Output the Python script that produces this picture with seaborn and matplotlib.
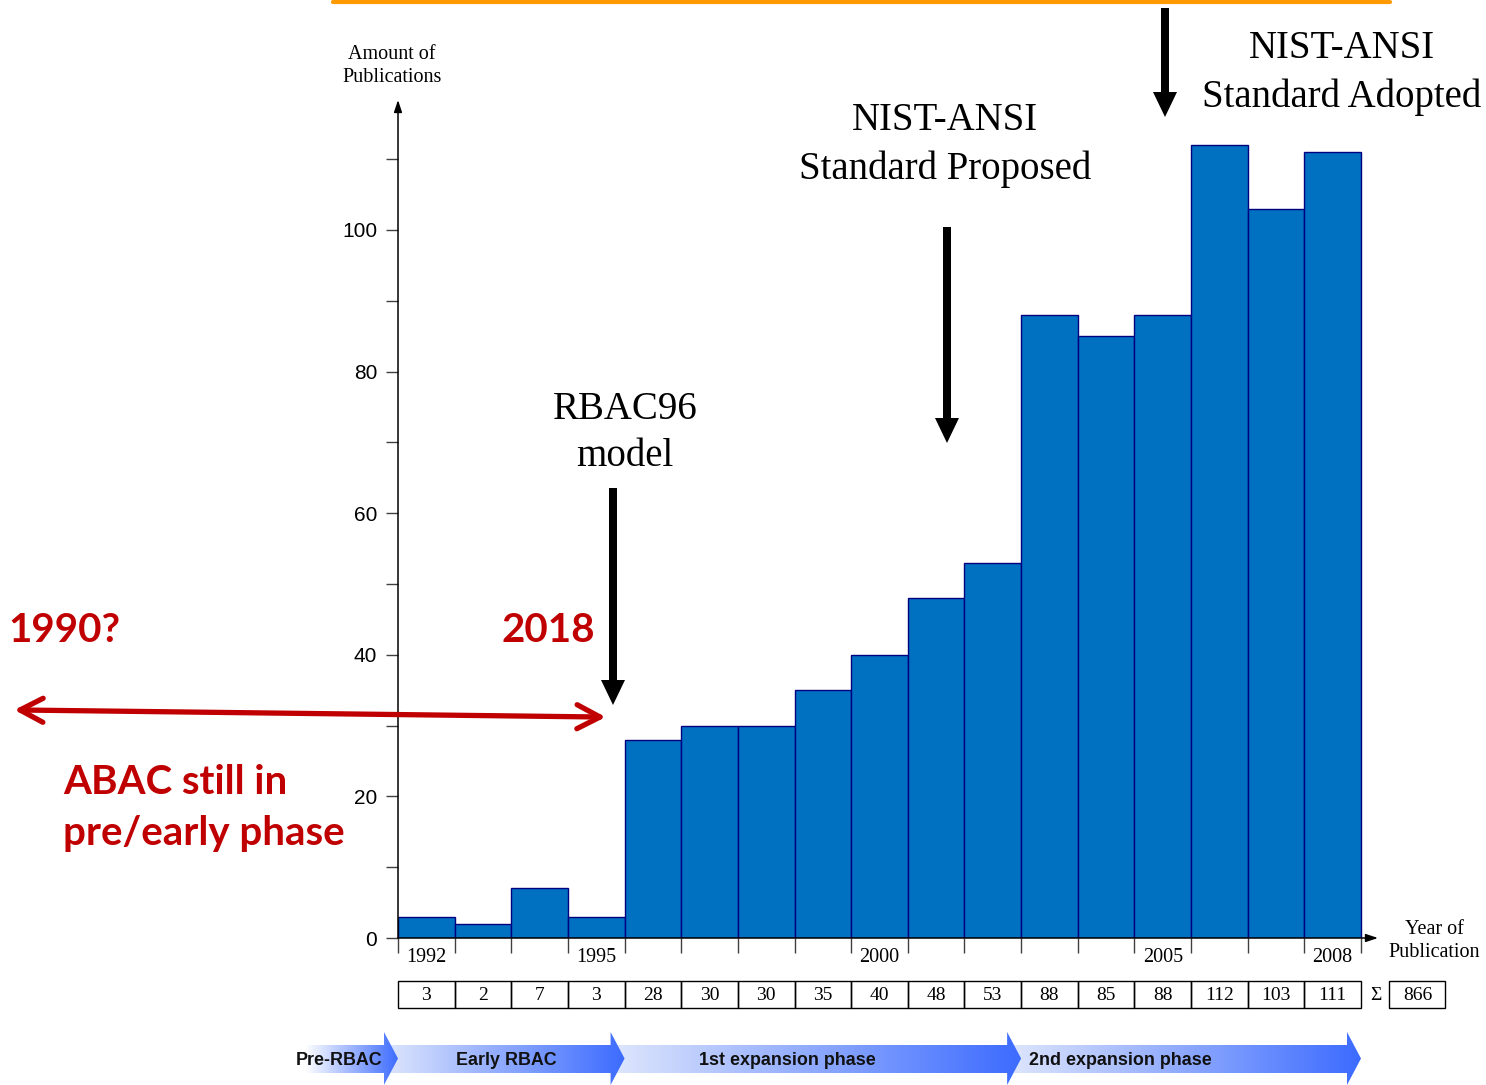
import numpy as np
import pandas as pd
import seaborn as sns
import matplotlib
matplotlib.use("Agg")
import matplotlib.pyplot as plt
from matplotlib.patches import Rectangle, Polygon, FancyArrow
from matplotlib import transforms
from matplotlib.colors import to_rgb

# ---------------- data ----------------
years = list(range(1992, 2009))
publications = [3, 2, 7, 3, 28, 30, 30, 35, 40, 48, 53, 88, 85, 88, 112, 103, 111]
labeled_years = [1992, 1995, 2000, 2005, 2008]
phase_names = ["Pre-RBAC", "Early RBAC", "1st expansion phase", "2nd expansion phase"]
phase_last_year = [1991, 1995, 2002, 2008]

W, H = 1486, 1085
sns.set_theme(style="white")
plt.rcParams["font.family"] = ["Liberation Sans", "DejaVu Sans"]
plt.rcParams["text.color"] = "black"
plt.rcParams["axes.labelcolor"] = "black"
plt.rcParams["xtick.labelcolor"] = "black"
plt.rcParams["ytick.labelcolor"] = "black"
SERIF = ["Liberation Serif", "DejaVu Serif"]
RED = "#C00000"

fig = plt.figure(figsize=(W / 100, H / 100), dpi=100)

# ---------------- main axes ----------------
L, XR, B0, T = 398, 1378, 938, 100
ax = fig.add_axes([L / W, 1 - B0 / H, (XR - L) / W, (B0 - T) / H])
df = pd.DataFrame({"year": years, "pubs": publications})
sns.barplot(data=df, x="year", y="pubs", color="#0070C0", saturation=1,
            width=1.0, edgecolor="#000080", linewidth=1, ax=ax)
pxu = (1361 - 398) / 17.0
ax.set_xlim(-0.5, -0.5 + (XR - L) / pxu)
ax.set_ylim(0, (B0 - T) / 7.08)
ax.set_xlabel("")
ax.set_ylabel("")
for s in ax.spines.values():
    s.set_visible(False)
ax.set_facecolor("none")

# axis arrows
for tip in [(0, 1), (1, 0)]:
    ax.annotate("", xy=tip, xytext=(0, 0), xycoords="axes fraction",
                arrowprops=dict(arrowstyle="-|>,head_length=0.6,head_width=0.2",
                                lw=1.1, color="black", mutation_scale=12,
                                shrinkA=0, shrinkB=0))

# y ticks
ax.set_yticks(np.arange(0, 101, 20))
ax.set_yticks(np.arange(10, 111, 20), minor=True)
ax.tick_params(axis="y", which="both", direction="out", length=8.6, width=1,
               color="#404040", left=True, labelsize=15, pad=6.5)
ax.tick_params(axis="y", which="minor", labelleft=False)

# x ticks
ax.set_xticks([years.index(y) for y in labeled_years])
ax.set_xticklabels([str(y) for y in labeled_years])
ax.set_xticks(np.arange(-0.5, len(years), 1), minor=True)
ax.tick_params(axis="x", which="major", length=0, labelsize=14.5, pad=7)
ax.tick_params(axis="x", which="minor", direction="out", length=10.8, width=1,
               color="#404040", bottom=True)
for lbl in ax.get_xticklabels():
    lbl.set_fontfamily(SERIF)

# ---------------- value table ----------------
trans = transforms.blended_transform_factory(ax.transData, fig.transFigure)
ytop, ybot = 1 - 981 / H, 1 - 1008 / H
ymid = 1 - 995 / H
for i, v in enumerate(publications):
    fig.add_artist(Rectangle((i - 0.5, ybot), 1, ytop - ybot, transform=trans,
                             fill=False, lw=1, ec="black"))
    fig.text(i, ymid, str(v), transform=trans, ha="center", va="center",
             family=SERIF, fontsize=14)
fig.text(16.77, ymid, "\u03a3", transform=trans, ha="center", va="center",
         family=SERIF, fontsize=14)
fig.add_artist(Rectangle((17.0, ybot), 0.99, ytop - ybot, transform=trans,
                         fill=False, lw=1, ec="black"))
fig.text(17.5, ymid, str(sum(publications)), transform=trans, ha="center",
         va="center", family=SERIF, fontsize=14)

# ---------------- phase arrows ----------------
PL, PR = 280, 1400
pax = fig.add_axes([PL / W, 0, (PR - PL) / W, 55 / H])
head = 14 / pxu
b_lo, b_hi = (1085 - 1073) / 55, (1085 - 1045) / 55
h_lo, h_hi = 0.0, (1085 - 1032) / 55
ends = [(y - years[0]) + 0.5 for y in phase_last_year]
starts = [ends[0] - 93 / pxu] + [e - head for e in ends[:-1]]
text_pos = [(-1.54, "center"), (1.42, "center"), (6.37, "center"), (10.64, "left")]
c_right = np.array(to_rgb("#3c6bff"))
for k in reversed(range(len(phase_names))):
    x0, x1 = starts[k], ends[k]
    xh = x1 - head
    verts = [(x0, b_lo), (xh, b_lo), (xh, h_lo), (x1, (h_lo + h_hi) / 2),
             (xh, h_hi), (xh, b_hi), (x0, b_hi)]
    poly = Polygon(verts, closed=True, fc="none", ec="none")
    pax.add_patch(poly)
    c_left = np.array(to_rgb("#ffffff" if k == 0 else "#dfe7fc"))
    t = np.linspace(0, 1, 256)[None, :, None]
    img = c_left + (c_right - c_left) * t
    im = pax.imshow(img, extent=[x0, x1, 0, 1], aspect="auto",
                    interpolation="bilinear", zorder=2 + (len(phase_names) - k))
    im.set_clip_path(poly)
    tx, ha = text_pos[k]
    pax.text(tx, 0.44, phase_names[k], ha=ha, va="center", fontsize=12.9,
             fontweight="bold", color="#111111", zorder=10)
pax.set_xlim(-0.5 - (398 - PL) / pxu, -0.5 + (PR - 398) / pxu)
pax.set_ylim(0, 1)
pax.axis("off")

# ---------------- overlay annotations (pixel coords) ----------------
oax = fig.add_axes([0, 0, 1, 1], zorder=5)
oax.set_xlim(0, W)
oax.set_ylim(H, 0)
oax.axis("off")
oax.patch.set_alpha(0)

# orange remnant line at top
oax.plot([333, 1390], [1.5, 1.5], color="#FF9900", lw=3, solid_capstyle="round")

def down_arrow(x, y0, y1):
    oax.add_patch(FancyArrow(x, y0, 0, y1 - y0, width=8, head_width=24,
                             head_length=25, length_includes_head=True,
                             color="black", lw=0))

down_arrow(613, 488, 705)
down_arrow(947, 227, 443)
down_arrow(1165, 8, 117)

big = dict(family=SERIF, fontsize=28, ha="center", va="center", linespacing=1.38)
oax.text(625, 433, "RBAC96\nmodel", **big)
oax.text(945, 145, "NIST-ANSI\nStandard Proposed", **big)
oax.text(1342, 73, "NIST-ANSI\nStandard Adopted", **big)

small = dict(family=SERIF, fontsize=14.5, ha="center", va="center", linespacing=1.25)
oax.text(392, 66, "Amount of\nPublications", **small)
oax.text(1434, 941, "Year of\nPublication", **small)

# red annotations
redf = dict(family=["Lato", "DejaVu Sans"], fontweight="bold", color=RED,
            fontsize=29, va="center")
oax.text(8, 630, "1990?", ha="left", **redf)
oax.text(548, 630, "2018", ha="center", **redf)
oax.text(63, 808, "ABAC still in\npre/early phase", ha="left", linespacing=1.45, **redf)

p0 = np.array([20.0, 710.0])
p1 = np.array([600.0, 717.0])
oax.plot([p0[0], p1[0]], [p0[1], p1[1]], color=RED, lw=3.8, solid_capstyle="butt")
d = (p1 - p0) / np.linalg.norm(p1 - p0)
n = np.array([-d[1], d[0]])
for tip, sgn in [(p0, 1), (p1, -1)]:
    for s in (1, -1):
        arm = tip + sgn * d * 23 + s * n * 12
        oax.plot([tip[0], arm[0]], [tip[1], arm[1]], color=RED, lw=3.8,
                 solid_capstyle="round")

fig.savefig("out.png", dpi=100)
